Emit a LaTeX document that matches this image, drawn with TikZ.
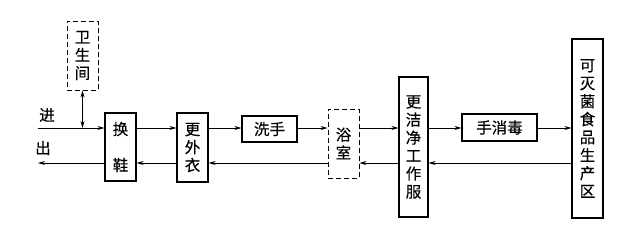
\documentclass[tikz,border=0pt]{standalone}
\usepackage{fontspec}
\newfontfamily\cjk{Noto Sans CJK SC}[FakeBold=0.4]
\usetikzlibrary{positioning, arrows.meta}

\begin{document}
\begin{tikzpicture}[>={Stealth[length=7pt,width=4pt]}, x=1pt, y=-1pt,
    box/.style={draw, line width=1.1pt, inner sep=0pt, align=center,
        font=\cjk\fontsize{15.5}{18}\selectfont},
    dbox/.style={box, line width=0.9pt, dash pattern=on 5pt off 3pt},
    flow/.style={->, line width=0.7pt}]

    \useasboundingbox (0,0) rectangle (640,243);

    % boxes
    \node[dbox, minimum width=31pt, minimum height=69pt] (wsj) at (82.5,55.5) {卫\\生\\间};
    \node[box, minimum width=31pt, minimum height=68pt] (hx) at (120.5,147) {换\\[18pt]鞋};
    \node[box, minimum width=31pt, minimum height=69pt] (gwy) at (192.5,147.5) {更\\外\\衣};
    \node[box, minimum width=55pt, minimum height=26pt] (xs) at (269.5,129) {洗手};
    \node[dbox, minimum width=31pt, minimum height=69pt] (ys) at (343.5,143.5) {浴\\室};
    \node[box, minimum width=29pt, minimum height=140pt] (gjj) at (413.5,147) {更\\洁\\净\\工\\作\\服};
    \node[box, minimum width=75pt, minimum height=27pt] (xsd) at (499.5,127.5) {手消毒};
    \node[box, minimum width=31pt, minimum height=179pt] (kmj) at (587.5,128.5) {可\\灭\\菌\\食\\品\\生\\产\\区};

    % rows of the connectors
    \coordinate (up) at (0,128);
    \coordinate (dn) at (0,163);
    \coordinate (in) at (38,128);
    \coordinate (out) at (38,163);
    \coordinate (tap) at (82.5,128);

    \node[font=\cjk\fontsize{15.5}{18}\selectfont] (jin) at (47,115) {进};
    \node[font=\cjk\fontsize{15.5}{18}\selectfont] (chu) at (43,148) {出};

    % going in
    \draw[flow] (in) -- (hx.west |- up);
    \draw[flow] (hx.east |- up) -- (gwy.west |- up);
    \draw[flow] (gwy.east |- up) -- (xs.west |- up);
    \draw[flow] (xs.east |- up) -- (ys.west |- up);
    \draw[flow] (ys.east |- up) -- (gjj.west |- up);
    \draw[flow] (gjj.east |- up) -- (xsd.west |- up);
    \draw[flow] (xsd.east |- up) -- (kmj.west |- up);
    \draw[flow, <->] (wsj.south) -- (tap);

    % going out
    \draw[flow] (kmj.west |- dn) -- (gjj.east |- dn);
    \draw[flow] (gjj.west |- dn) -- (ys.east |- dn);
    \draw[flow] (ys.west |- dn) -- (gwy.east |- dn);
    \draw[flow] (gwy.west |- dn) -- (hx.east |- dn);
    \draw[flow] (hx.west |- dn) -- (out);

\end{tikzpicture}
\end{document}
